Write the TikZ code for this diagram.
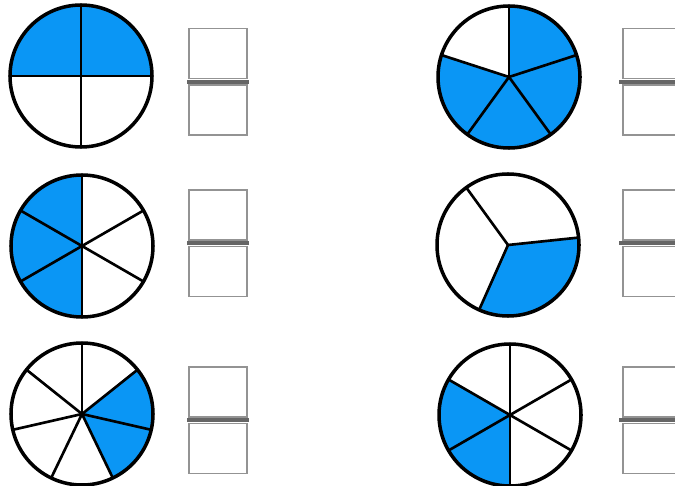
\documentclass[tikz,border=0pt]{standalone}
\usepackage{xcolor}
\usepackage{tikz}
\usetikzlibrary{positioning}
\definecolor{pieblue}{RGB}{10,150,245}

\begin{document}
\begin{tikzpicture}[x=0.02cm, y=0.02cm,
  piefill/.style={fill=pieblue},
  spoke/.style={draw=black, line width=1.5pt},
  rim/.style={draw=black, line width=2pt},
  numbox/.style={draw=gray!85, line width=0.8pt, rectangle,
                 minimum width=1.16cm, minimum height=1.0cm, inner sep=0pt},
  bar/.style={draw=gray!80!black, line width=2.2pt}
]
\clip (0,0) rectangle (675,-486);
\fill[white] (0,0) rectangle (675,-486);

%% Quarters, top left
\coordinate (c1) at (81,-76);
\fill[piefill] (c1) -- ++(0:71) arc[start angle=0, end angle=180, radius=71] -- cycle;
\foreach \a in {0,90,180,270} \draw[spoke] (c1) -- ++(\a:71);
\draw[rim] (c1) circle[radius=71];
\node[numbox] (n1) at (218,-53.5) {};
\node[numbox, below=0.1cm of n1] (d1) {};
\draw[bar] ([xshift=-0.02cm,yshift=-0.05cm]n1.south west) -- ([xshift=0.02cm,yshift=-0.05cm]n1.south east);

%% Fifths, top right
\coordinate (c2) at (509,-77);
\fill[piefill] (c2) -- ++(162:71) arc[start angle=162, end angle=450, radius=71] -- cycle;
\foreach \a in {90,18,-54,-126,162} \draw[spoke] (c2) -- ++(\a:71);
\draw[rim] (c2) circle[radius=71];
\node[numbox] (n2) at (652,-53.5) {};
\node[numbox, below=0.1cm of n2] (d2) {};
\draw[bar] ([xshift=-0.06cm,yshift=-0.05cm]n2.south west) -- ([xshift=0.02cm,yshift=-0.05cm]n2.south east);

%% Sixths, middle left
\coordinate (c3) at (82,-246);
\fill[piefill] (c3) -- ++(90:71) arc[start angle=90, end angle=270, radius=71] -- cycle;
\foreach \a in {90,30,-30,-90,-150,150} \draw[spoke] (c3) -- ++(\a:71);
\draw[rim] (c3) circle[radius=71];
\node[numbox] (n3) at (218,-215) {};
\node[numbox, below=0.1cm of n3] (d3) {};
\draw[bar] ([xshift=-0.02cm,yshift=-0.05cm]n3.south west) -- ([xshift=0.02cm,yshift=-0.05cm]n3.south east);

%% Thirds, middle right
\coordinate (c4) at (508,-245);
\fill[piefill] (c4) -- ++(-114:71) arc[start angle=-114, end angle=6, radius=71] -- cycle;
\foreach \a in {126,6,-114} \draw[spoke] (c4) -- ++(\a:71);
\draw[rim] (c4) circle[radius=71];
\node[numbox] (n4) at (652,-215) {};
\node[numbox, below=0.1cm of n4] (d4) {};
\draw[bar] ([xshift=-0.06cm,yshift=-0.05cm]n4.south west) -- ([xshift=0.02cm,yshift=-0.05cm]n4.south east);

%% Sevenths, bottom left
\coordinate (c5) at (82,-414);
\fill[piefill] (c5) -- ++(-64.29:71) arc[start angle=-64.29, end angle=38.57, radius=71] -- cycle;
\foreach \k in {0,...,6} \draw[spoke] (c5) -- ++({90-\k*360/7}:71);
\draw[rim] (c5) circle[radius=71];
\node[numbox] (n5) at (218,-392) {};
\node[numbox, below=0.1cm of n5] (d5) {};
\draw[bar] ([xshift=-0.02cm,yshift=-0.05cm]n5.south west) -- ([xshift=0.02cm,yshift=-0.05cm]n5.south east);

%% Sixths, bottom right
\coordinate (c6) at (510,-415);
\fill[piefill] (c6) -- ++(150:71) arc[start angle=150, end angle=270, radius=71] -- cycle;
\foreach \a in {90,30,-30,-90,-150,150} \draw[spoke] (c6) -- ++(\a:71);
\draw[rim] (c6) circle[radius=71];
\node[numbox] (n6) at (652,-392) {};
\node[numbox, below=0.1cm of n6] (d6) {};
\draw[bar] ([xshift=-0.06cm,yshift=-0.05cm]n6.south west) -- ([xshift=0.02cm,yshift=-0.05cm]n6.south east);
\end{tikzpicture}
\end{document}
